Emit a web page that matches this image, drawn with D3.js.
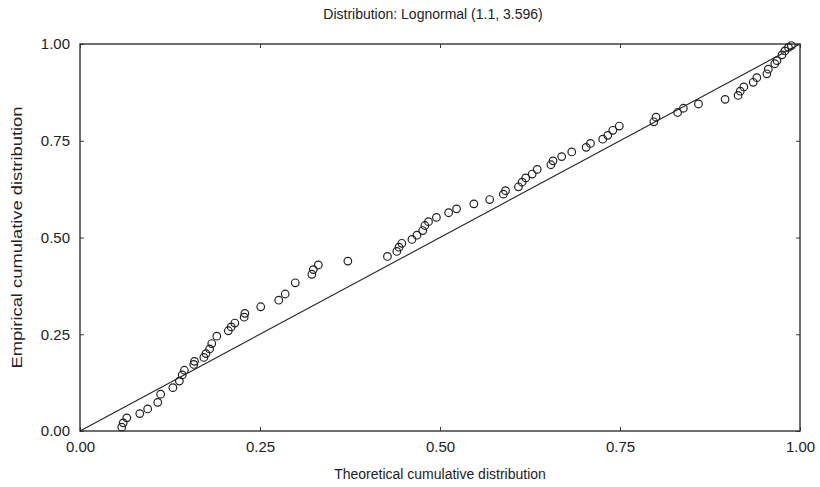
<!DOCTYPE html>
<html>
<head>
<meta charset="utf-8">
<script src="https://cdn.jsdelivr.net/npm/d3@7"></script>
<style>
  body { margin: 0; background: #fff; }
  text { font-family: "Liberation Sans", Arial, sans-serif; fill: #222; }
</style>
</head>
<body>
<svg id="chart"></svg>
<script>
// theoretical cumulative distribution (x) of each observation
const theoretical = [
  0.058, 0.060, 0.065, 0.083, 0.094, 0.108, 0.112, 0.129, 0.138, 0.142,
  0.145, 0.158, 0.159, 0.172, 0.175, 0.180, 0.183, 0.190, 0.206, 0.210,
  0.215, 0.228, 0.229, 0.251, 0.276, 0.285, 0.299, 0.322, 0.324, 0.331,
  0.372, 0.427, 0.440, 0.443, 0.447, 0.461, 0.468, 0.476, 0.479, 0.484,
  0.495, 0.512, 0.523, 0.547, 0.569, 0.588, 0.591, 0.609, 0.614, 0.619,
  0.628, 0.635, 0.654, 0.657, 0.669, 0.683, 0.703, 0.709, 0.726, 0.733,
  0.740, 0.749, 0.797, 0.800, 0.830, 0.838, 0.859, 0.896, 0.914, 0.917,
  0.922, 0.935, 0.940, 0.954, 0.956, 0.965, 0.968, 0.975, 0.979, 0.984,
  0.988
];
// empirical cumulative distribution (y)
const empirical = [
  0.010, 0.021, 0.034, 0.045, 0.057, 0.074, 0.095, 0.112, 0.129, 0.145,
  0.157, 0.172, 0.180, 0.190, 0.200, 0.212, 0.226, 0.245, 0.259, 0.269,
  0.279, 0.294, 0.304, 0.321, 0.338, 0.354, 0.383, 0.405, 0.417, 0.429,
  0.439, 0.451, 0.464, 0.475, 0.485, 0.495, 0.506, 0.518, 0.531, 0.541,
  0.552, 0.564, 0.574, 0.587, 0.598, 0.612, 0.621, 0.631, 0.643, 0.654,
  0.664, 0.676, 0.688, 0.698, 0.709, 0.721, 0.733, 0.743, 0.754, 0.764,
  0.777, 0.788, 0.799, 0.811, 0.823, 0.834, 0.845, 0.857, 0.867, 0.878,
  0.889, 0.901, 0.913, 0.923, 0.935, 0.949, 0.957, 0.972, 0.982, 0.991,
  0.996
];
const tickValues = [0, 0.25, 0.5, 0.75, 1];
const title = "Distribution: Lognormal (1.1, 3.596)";
const xLabel = "Theoretical cumulative distribution";
const yLabel = "Empirical cumulative distribution";

const width = 820, height = 487;
const margin = {top: 44, right: 20, bottom: 56, left: 80};
const innerW = width - margin.left - margin.right;
const innerH = height - margin.top - margin.bottom;

const svg = d3.select("#chart")
  .attr("width", width)
  .attr("height", height);

const g = svg.append("g")
  .attr("transform", `translate(${margin.left},${margin.top})`);

const x = d3.scaleLinear().domain([0, 1]).range([0, innerW]);
const y = d3.scaleLinear().domain([0, 1]).range([innerH, 0]);

const fmt = d3.format(".2f");

// inward ticks on all four sides
const axes = [
  {axis: d3.axisBottom(x), tr: `translate(0,${innerH})`, labels: true},
  {axis: d3.axisLeft(y), tr: null, labels: true},
  {axis: d3.axisTop(x), tr: null, labels: false},
  {axis: d3.axisRight(y), tr: `translate(${innerW},0)`, labels: false}
];
axes.forEach(a => {
  const ag = g.append("g")
    .attr("transform", a.tr)
    .call(a.axis.tickValues(tickValues).tickSizeInner(-4).tickSizeOuter(0)
      .tickPadding(10).tickFormat(a.labels ? fmt : ""));
  ag.select(".domain").remove();
  ag.selectAll("line").attr("stroke", "#333");
  ag.selectAll("text")
    .attr("font-size", "15px")
    .attr("font-family", "Liberation Sans, Arial, sans-serif")
    .attr("fill", "#222");
});

// frame
g.append("rect")
  .attr("width", innerW)
  .attr("height", innerH)
  .attr("fill", "none")
  .attr("stroke", "#333")
  .attr("stroke-width", 1.4);

// reference line
g.append("line")
  .attr("x1", x(0)).attr("y1", y(0))
  .attr("x2", x(1)).attr("y2", y(1))
  .attr("stroke", "#222")
  .attr("stroke-width", 1.1);

const pts = theoretical.map((d, i) => ({x: d, y: empirical[i]}));

g.selectAll("circle.pt")
  .data(pts)
  .enter()
  .append("circle")
  .attr("class", "pt")
  .attr("cx", d => x(d.x))
  .attr("cy", d => y(d.y))
  .attr("r", 3.8)
  .attr("fill", "none")
  .attr("stroke", "#222")
  .attr("stroke-width", 1.2);

svg.append("text")
  .attr("x", 433)
  .attr("y", 19)
  .attr("text-anchor", "middle")
  .attr("font-size", "14px")
  .text(title);

svg.append("text")
  .attr("x", margin.left + innerW / 2)
  .attr("y", 479)
  .attr("text-anchor", "middle")
  .attr("font-size", "14px")
  .text(xLabel);

// the scanned y label is stretched along its length
svg.append("text")
  .attr("transform", `translate(22,${margin.top + innerH / 2}) rotate(-90)`)
  .attr("text-anchor", "middle")
  .attr("font-size", "14px")
  .attr("textLength", 262)
  .attr("lengthAdjust", "spacingAndGlyphs")
  .text(yLabel);
</script>
</body>
</html>
